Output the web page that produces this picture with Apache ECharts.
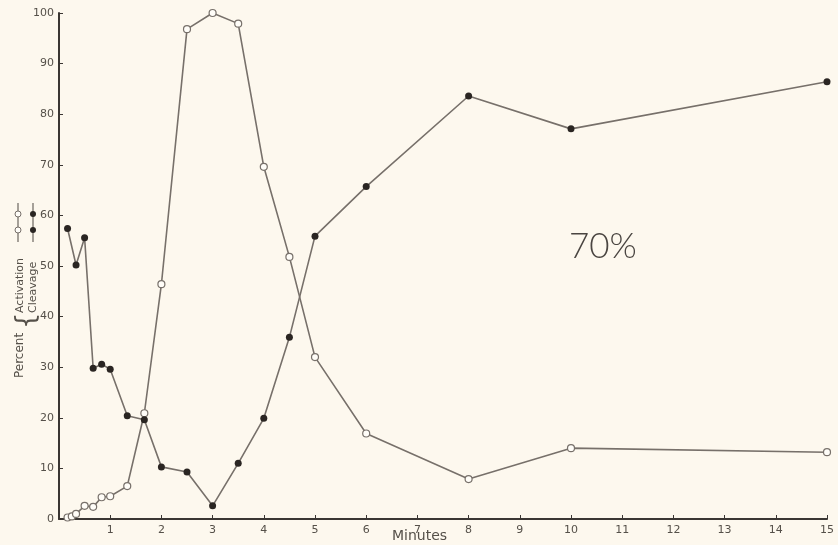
<!DOCTYPE html>
<html>
<head>
<meta charset="utf-8">
<script src="https://cdn.jsdelivr.net/npm/echarts@6/dist/echarts.min.js"></script>
<style>
html,body{margin:0;padding:0;background:#fdf8ee;}
#chart{width:838px;height:545px;}
</style>
</head>
<body>
<div id="chart"></div>
<script>
// Data
var activationMinutes = [0.167, 0.25, 0.333, 0.5, 0.667, 0.833, 1, 1.333, 1.667, 2, 2.5, 3, 3.5, 4, 4.5, 5, 6, 8, 10, 15];
var activationPercent = [0.3, 0.5, 1.0, 2.6, 2.4, 4.3, 4.5, 6.5, 20.9, 46.4, 96.8, 100, 97.9, 69.6, 51.8, 32.0, 16.9, 7.9, 14.0, 13.2];
var cleavageMinutes = [0.167, 0.333, 0.5, 0.667, 0.833, 1, 1.333, 1.667, 2, 2.5, 3, 3.5, 4, 4.5, 5, 6, 8, 10, 15];
var cleavagePercent = [57.4, 50.2, 55.6, 29.8, 30.6, 29.6, 20.4, 19.6, 10.3, 9.3, 2.6, 11.0, 19.9, 35.9, 55.9, 65.7, 83.6, 77.1, 86.4];
var xTicks = [1, 2, 3, 4, 5, 6, 7, 8, 9, 10, 11, 12, 13, 14, 15];
var yTicks = [0, 10, 20, 30, 40, 50, 60, 70, 80, 90, 100];
var annotation = '70%';

function pairs(xs, ys) { return xs.map(function (x, i) { return [x, ys[i]]; }); }

var lineColor = '#77706a';
var axisColor = '#3a3633';
var textColor = '#555049';

var chart = echarts.init(document.getElementById('chart'));
chart.setOption({
  backgroundColor: '#fdf8ee',
  animation: false,
  grid: { left: 59, right: 11, top: 13, bottom: 26, containLabel: false },
  xAxis: {
    type: 'value', min: 0, max: 15, interval: 1,
    axisLine: { lineStyle: { color: axisColor, width: 2 } },
    axisTick: { inside: true, length: 4, lineStyle: { color: axisColor, width: 1 } },
    axisLabel: {
      color: textColor, fontSize: 11, fontFamily: 'DejaVu Sans', margin: 6,
      formatter: function (v) { return xTicks.indexOf(v) >= 0 ? String(v) : ''; }
    },
    splitLine: { show: false }
  },
  yAxis: {
    type: 'value', min: 0, max: 100, interval: 10,
    axisLine: { show: true, lineStyle: { color: axisColor, width: 2 } },
    axisTick: { show: true, inside: true, length: 4, lineStyle: { color: axisColor, width: 1 } },
    axisLabel: {
      color: textColor, fontSize: 11, fontFamily: 'DejaVu Sans', margin: 5,
      formatter: function (v) { return yTicks.indexOf(v) >= 0 ? String(v) : ''; }
    },
    splitLine: { show: false }
  },
  graphic: [
    { type: 'text', left: 392, top: 529, style: { text: 'Minutes', fill: textColor, font: '14px "DejaVu Sans"' } },
    { type: 'text', x: 569, y: 229, style: { text: annotation, fill: '#4a4541', font: '300 35px Lato' } },
    // rotated axis title with legend keys
    { type: 'text', x: 14, y: 378, rotation: Math.PI / 2, style: { text: 'Percent', fill: textColor, font: '12px "DejaVu Sans"' } },
    { type: 'text', x: 14, y: 329, rotation: Math.PI / 2, style: { text: '{', fill: textColor, font: '26px "DejaVu Sans"' } },
    { type: 'text', x: 15, y: 313, rotation: Math.PI / 2, style: { text: 'Activation', fill: textColor, font: '11px "DejaVu Sans"' } },
    { type: 'text', x: 28, y: 313, rotation: Math.PI / 2, style: { text: 'Cleavage', fill: textColor, font: '11px "DejaVu Sans"' } },
    { type: 'line', shape: { x1: 18, y1: 203, x2: 18, y2: 242 }, style: { stroke: lineColor, lineWidth: 1.3 } },
    { type: 'circle', shape: { cx: 18, cy: 214, r: 3 }, style: { fill: '#fffdf8', stroke: lineColor, lineWidth: 1 } },
    { type: 'circle', shape: { cx: 18, cy: 230, r: 3 }, style: { fill: '#fffdf8', stroke: lineColor, lineWidth: 1 } },
    { type: 'line', shape: { x1: 33, y1: 203, x2: 33, y2: 242 }, style: { stroke: lineColor, lineWidth: 1.3 } },
    { type: 'circle', shape: { cx: 33, cy: 214, r: 3 }, style: { fill: '#2a2522' } },
    { type: 'circle', shape: { cx: 33, cy: 230, r: 3 }, style: { fill: '#2a2522' } }
  ],
  series: [
    {
      name: 'Activation', type: 'line', data: pairs(activationMinutes, activationPercent),
      symbol: 'circle', symbolSize: 7,
      lineStyle: { color: lineColor, width: 1.6 },
      itemStyle: { color: '#fffdf8', borderColor: lineColor, borderWidth: 1.2 },
      z: 3
    },
    {
      name: 'Cleavage', type: 'line', data: pairs(cleavageMinutes, cleavagePercent),
      symbol: 'circle', symbolSize: 7,
      lineStyle: { color: lineColor, width: 1.6 },
      itemStyle: { color: '#2a2522', borderColor: '#2a2522', borderWidth: 0 },
      z: 4
    }
  ]
});
</script>
</body>
</html>
